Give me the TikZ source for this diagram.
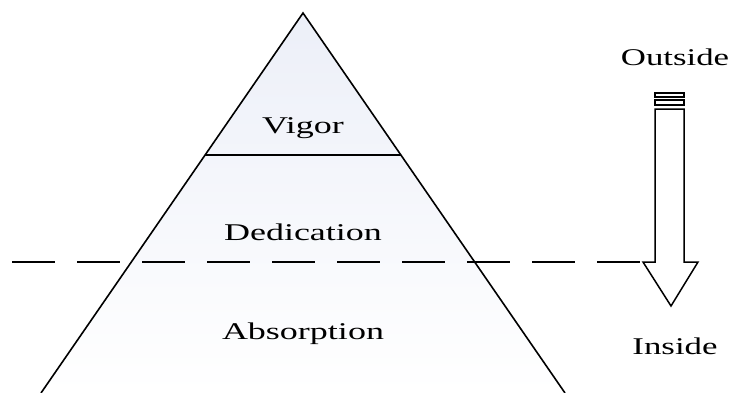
\documentclass[tikz,border=0pt]{standalone}
\usepackage{fontspec}
\setmainfont{Liberation Serif}
\begin{document}
\begin{tikzpicture}[x=1pt,y=-1pt,
  lbl/.style={inner sep=0pt,font=\fontsize{24}{28}\selectfont},
  edge/.style={line width=1.6pt,line join=miter},
  arrowline/.style={line width=1.5pt,line join=miter}]
\useasboundingbox (0,0) rectangle (734,392);
% pyramid fill
\shade[top color={rgb,255:red,236;green,239;blue,248},bottom color=white]
  (303,13) -- (565,393) -- (41,393) -- cycle;
% pyramid sides
\coordinate (apex) at (303,13);
\coordinate (bl) at (41,393);
\coordinate (br) at (565,393);
\draw[edge] (bl) -- (apex) -- (br);
\coordinate (vl) at (205,155);
\coordinate (vr) at (401,155);
\draw[edge] (vl) -- (vr);
% dashed line
\coordinate (dl) at (12,262);
\coordinate (dr) at (640,262);
\draw[line width=1.6pt,dash pattern=on 43pt off 22pt] (dl) -- (dr);
% striped arrow
\draw[arrowline,fill=white] (655,93) rectangle (684,97);
\draw[arrowline,fill=white] (655,100) rectangle (684,105);
\draw[arrowline,fill=white] (655,109) -- (684,109) -- (684,262) -- (698,262)
  -- (671,306) -- (643,262) -- (655,262) -- cycle;
% labels
\node[lbl] (vigor) at (303,128) {\scalebox{1.5}[1]{Vigor}};
\node[lbl] (dedication) at (303,232) {\scalebox{1.5}[1]{Dedication}};
\node[lbl] (absorption) at (303,334) {\scalebox{1.5}[1]{Absorption}};
\node[lbl] (outside) at (675,57) {\scalebox{1.45}[1]{Outside}};
\node[lbl] (inside) at (675,346) {\scalebox{1.45}[1]{Inside}};
\end{tikzpicture}
\end{document}
